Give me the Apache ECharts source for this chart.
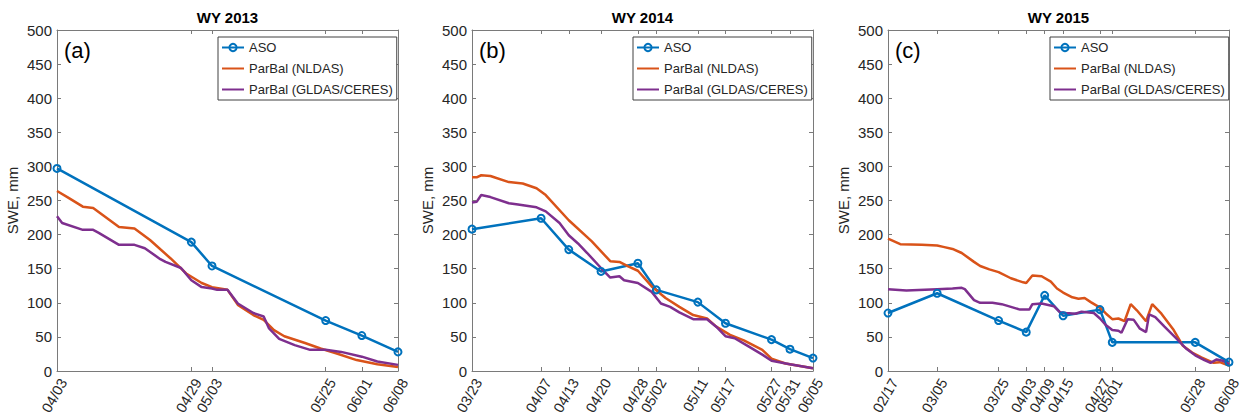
<!DOCTYPE html>
<html>
<head>
<meta charset="utf-8">
<script src="https://cdn.jsdelivr.net/npm/echarts@6/dist/echarts.min.js"></script>
<style>
  html, body { margin: 0; padding: 0; background: #fff; }
  #chart { width: 1246px; height: 419px; }
</style>
</head>
<body>
<div id="chart"></div>
<script>
// ---- data (dates are MM/DD within each water year) ----
var years = [2013, 2014, 2015];
var titles = ['WY 2013', 'WY 2014', 'WY 2015'];
var panelTags = ['(a)', '(b)', '(c)'];

var asoDates2013 = ['04/03', '04/29', '05/03', '05/25', '06/01', '06/08'];
var aso2013 = [297, 189, 154, 74, 52, 28];
var nldasDates2013 = ['04/03', '04/05', '04/08', '04/10', '04/15', '04/18', '04/21', '04/25', '04/28',
    '05/01', '05/03', '05/06', '05/08', '05/11', '05/13', '05/15', '05/17', '05/21', '05/24', '05/27',
    '05/31', '06/04', '06/08'];
var nldas2013 = [264, 255, 241, 239, 211, 209, 192, 165, 143, 129, 123, 119, 97, 82, 75, 60, 51, 41, 33, 26, 16, 10, 6];
var gldasDates2013 = ['04/03', '04/04', '04/08', '04/10', '04/11', '04/15', '04/18', '04/20', '04/23', '04/24',
    '04/27', '04/29', '05/01', '05/03', '05/04', '05/06', '05/08', '05/11', '05/13', '05/14', '05/16',
    '05/19', '05/22', '05/25', '05/28', '06/01', '06/04', '06/08'];
var gldas2013 = [227, 217, 207, 207, 203, 185, 185, 180, 164, 160, 151, 133, 123, 121, 119, 119, 99, 85, 80,
    63, 47, 38, 31, 31, 28, 21, 14, 9];

var asoDates2014 = ['03/23', '04/07', '04/13', '04/20', '04/28', '05/02', '05/11', '05/17', '05/27', '05/31', '06/05'];
var aso2014 = [208, 224, 178, 146, 158, 119, 101, 70, 46, 32, 19];
var nldasDates2014 = ['03/23', '03/24', '03/25', '03/27', '03/31', '04/03', '04/06', '04/08', '04/13', '04/18',
    '04/22', '04/24', '04/26', '04/28', '05/01', '05/04', '05/07', '05/10', '05/13', '05/15', '05/18',
    '05/21', '05/25', '05/27', '05/30', '06/05'];
var nldas2014 = [284, 284, 287, 286, 277, 275, 268, 258, 221, 190, 161, 160, 153, 147, 124, 107, 94, 82, 77,
    65, 53, 45, 31, 18, 11, 4];
var gldasDates2014 = ['03/23', '03/24', '03/25', '03/27', '03/31', '04/02', '04/06', '04/08', '04/11', '04/13',
    '04/15', '04/17', '04/20', '04/22', '04/24', '04/25', '04/28', '05/01', '05/03', '05/05', '05/07',
    '05/10', '05/13', '05/15', '05/17', '05/19', '05/22', '05/25', '05/27', '05/31', '06/05'];
var gldas2014 = [247, 248, 258, 255, 246, 244, 240, 234, 217, 199, 187, 173, 151, 137, 139, 133, 129, 116, 99,
    94, 86, 76, 76, 65, 51, 48, 36, 24, 15, 10, 4];

var asoDates2015 = ['02/17', '03/05', '03/25', '04/03', '04/09', '04/15', '04/27', '05/01', '05/28', '06/08'];
var aso2015 = [85, 114, 74, 57, 111, 81, 90, 42, 42, 13];
var nldasDates2015 = ['02/17', '02/21', '02/28', '03/05', '03/07', '03/10', '03/13', '03/17', '03/19', '03/22',
    '03/25', '03/29', '04/02', '04/03', '04/05', '04/08', '04/11', '04/13', '04/15', '04/18', '04/20',
    '04/22', '04/24', '04/27', '04/29', '05/01', '05/03', '05/05', '05/07', '05/09', '05/12', '05/14',
    '05/17', '05/21', '05/24', '05/27', '05/30', '06/03', '06/05', '06/08'];
var nldas2015 = [194, 186, 185, 184, 182, 179, 173, 160, 154, 149, 145, 136, 130, 129, 140, 139, 131, 121, 115,
    108, 106, 107, 101, 93, 84, 76, 77, 73, 98, 89, 73, 98, 84, 60, 37, 27, 20, 12, 13, 8];
var gldasDates2015 = ['02/17', '02/23', '03/05', '03/10', '03/13', '03/14', '03/17', '03/19', '03/23', '03/26',
    '03/29', '04/01', '04/04', '04/05', '04/08', '04/12', '04/14', '04/16', '04/19', '04/21', '04/25',
    '04/27', '04/29', '05/01', '05/03', '05/04', '05/06', '05/08', '05/10', '05/12', '05/13', '05/15',
    '05/18', '05/22', '05/25', '05/28', '05/31', '06/02', '06/04', '06/06', '06/08'];
var gldas2015 = [120, 118, 120, 121, 122, 120, 104, 100, 100, 98, 94, 90, 90, 98, 99, 95, 86, 85, 84, 87, 85,
    77, 67, 60, 59, 56, 76, 75, 62, 57, 83, 79, 65, 47, 33, 23, 16, 12, 17, 15, 10];

var seriesNames = ['ASO', 'ParBal (NLDAS)', 'ParBal (GLDAS/CERES)'];
var colors = ['#0072BD', '#D95319', '#7E2F8E'];

// ---- layout ----
var gridLefts = [57, 472, 888];
var gridWidth = 341;
var gridTop = 30;
var gridHeight = 341;
var legendLefts = [218, 633, 1050];
var textColor = '#262626';
var axisColor = '#7a7a7a';
var fontFam = 'Liberation Sans, Arial, sans-serif';

function ts(year, md) {
    var p = md.split('/');
    return Date.UTC(year, +p[0] - 1, +p[1]);
}
function toPairs(year, dates, vals) {
    return dates.map(function (d, i) { return [ts(year, d), vals[i]]; });
}
function mmdd(v) {
    var d = new Date(v);
    var m = d.getUTCMonth() + 1, day = d.getUTCDate();
    return (m < 10 ? '0' : '') + m + '/' + (day < 10 ? '0' : '') + day;
}

var panels = [
    { aso: [asoDates2013, aso2013], nldas: [nldasDates2013, nldas2013], gldas: [gldasDates2013, gldas2013] },
    { aso: [asoDates2014, aso2014], nldas: [nldasDates2014, nldas2014], gldas: [gldasDates2014, gldas2014] },
    { aso: [asoDates2015, aso2015], nldas: [nldasDates2015, nldas2015], gldas: [gldasDates2015, gldas2015] }
];

var grid = [], xAxis = [], yAxis = [], series = [], legend = [], graphic = [];

panels.forEach(function (p, i) {
    var yr = years[i];
    var tickVals = p.aso[0].map(function (d) { return ts(yr, d); });
    var xmin = tickVals[0], xmax = tickVals[tickVals.length - 1];

    grid.push({ left: gridLefts[i], top: gridTop, width: gridWidth, height: gridHeight, containLabel: false });

    // bottom axis, ticks at the survey dates
    xAxis.push({
        type: 'value', gridIndex: i, min: xmin, max: xmax, position: 'bottom',
        axisLine: { onZero: false, lineStyle: { color: axisColor, width: 1 } },
        axisTick: { inside: true, length: 4, customValues: tickVals, lineStyle: { color: axisColor } },
        axisLabel: {
            customValues: tickVals, rotate: 60, margin: 5, fontSize: 14.5, color: textColor,
            verticalAlign: 'top', fontFamily: fontFam, formatter: mmdd
        },
        splitLine: { show: false }
    });
    // top frame
    xAxis.push({
        type: 'value', gridIndex: i, min: xmin, max: xmax, position: 'top',
        axisLine: { onZero: false, lineStyle: { color: axisColor, width: 1 } },
        axisTick: { inside: true, length: 4, customValues: tickVals, lineStyle: { color: axisColor } },
        axisLabel: { show: false },
        splitLine: { show: false }
    });
    yAxis.push({
        type: 'value', gridIndex: i, min: 0, max: 500, interval: 50, position: 'left',
        name: 'SWE, mm', nameLocation: 'middle', nameGap: 37, nameRotate: 90,
        nameTextStyle: { fontSize: 15, color: textColor, fontFamily: fontFam },
        axisLine: { show: true, onZero: false, lineStyle: { color: axisColor, width: 1 } },
        axisTick: { show: true, inside: true, length: 4, lineStyle: { color: axisColor } },
        axisLabel: { fontSize: 15, margin: 5, color: textColor, fontFamily: fontFam },
        splitLine: { show: false }
    });
    // right frame
    yAxis.push({
        type: 'value', gridIndex: i, min: 0, max: 500, interval: 50, position: 'right',
        axisLine: { show: true, onZero: false, lineStyle: { color: axisColor, width: 1 } },
        axisTick: { show: true, inside: true, length: 4, lineStyle: { color: axisColor } },
        axisLabel: { show: false },
        splitLine: { show: false }
    });

    var xb = i * 2, yl = i * 2;
    series.push({
        name: seriesNames[0], type: 'line', xAxisIndex: xb, yAxisIndex: yl,
        data: toPairs(yr, p.aso[0], p.aso[1]),
        symbol: 'circle', symbolSize: 7, showSymbol: true,
        lineStyle: { color: colors[0], width: 2.5 },
        itemStyle: { color: 'rgba(255,255,255,0)', borderColor: colors[0], borderWidth: 2 },
        animation: false
    });
    series.push({
        name: seriesNames[1], type: 'line', xAxisIndex: xb, yAxisIndex: yl,
        data: toPairs(yr, p.nldas[0], p.nldas[1]),
        showSymbol: false, symbol: 'none',
        lineStyle: { color: colors[1], width: 2.5 },
        itemStyle: { color: colors[1] },
        animation: false
    });
    series.push({
        name: seriesNames[2], type: 'line', xAxisIndex: xb, yAxisIndex: yl,
        data: toPairs(yr, p.gldas[0], p.gldas[1]),
        showSymbol: false, symbol: 'none',
        lineStyle: { color: colors[2], width: 2.5 },
        itemStyle: { color: colors[2] },
        animation: false
    });

    legend.push({
        data: [
            { name: seriesNames[0] },
            { name: seriesNames[1], itemStyle: { opacity: 0 } },
            { name: seriesNames[2], itemStyle: { opacity: 0 } }
        ],
        orient: 'vertical', left: legendLefts[i], top: 37,
        itemWidth: 22, itemHeight: 9, itemGap: 8, padding: [4, 4, 4, 3],
        borderColor: '#404040', borderWidth: 1, backgroundColor: '#fff',
        textStyle: { fontSize: 13, color: textColor, fontFamily: fontFam },
        selectedMode: false
    });

    graphic.push({
        type: 'text', x: gridLefts[i] + gridWidth / 2, y: 17,
        style: {
            text: titles[i], fill: '#000', font: 'bold 15px Liberation Sans, Arial, sans-serif',
            align: 'center', verticalAlign: 'middle'
        }
    });
    graphic.push({
        type: 'text', x: gridLefts[i] + 7, y: 50,
        style: {
            text: panelTags[i], fill: '#000', font: '22px Liberation Sans, Arial, sans-serif',
            align: 'left', verticalAlign: 'middle'
        }
    });
});

var chart = echarts.init(document.getElementById('chart'), null, { renderer: 'svg' });
chart.setOption({
    backgroundColor: '#fff',
    animation: false,
    grid: grid,
    xAxis: xAxis,
    yAxis: yAxis,
    legend: legend,
    graphic: graphic,
    series: series
});
</script>
</body>
</html>
